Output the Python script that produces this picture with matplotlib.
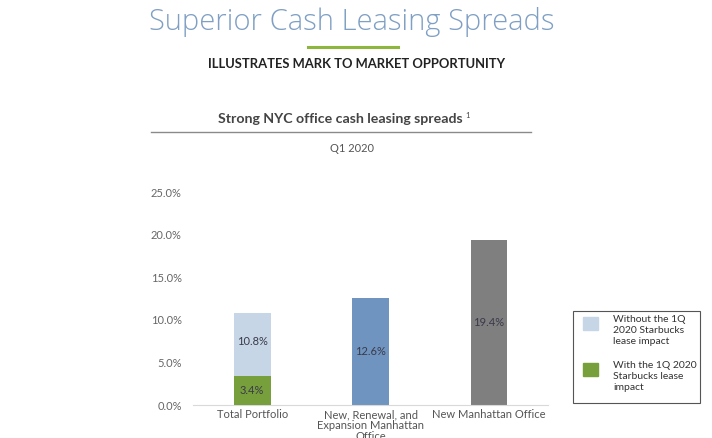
import matplotlib.pyplot as plt
from matplotlib.patches import Rectangle
from matplotlib.lines import Line2D

categories = ['Total Portfolio', 'New, Renewal, and\nExpansion Manhattan\nOffice', 'New Manhattan Office']
without_impact = [10.8, 12.6, 19.4]
with_impact = [3.4]
bar_colors = ['#c6d6e6', '#6f94bf', '#7f7f7f']
green = '#77a03c'
yticks = [0, 5, 10, 15, 20, 25]
legend_labels = ['Without the 1Q\n2020 Starbucks\nlease impact', 'With the 1Q 2020\nStarbucks lease\nimpact']

plt.rcParams['font.family'] = ['Lato', 'DejaVu Sans']

fig = plt.figure(figsize=(7.12, 4.38), dpi=100)
ax = fig.add_axes([0.271, 0.0753, 0.499, 0.486])

x = range(len(categories))
ax.bar(x, without_impact, width=0.31, color=bar_colors, zorder=2)
ax.bar([0], with_impact, width=0.31, color=green, zorder=3)

lab = dict(ha='center', va='center', fontsize=8, color='#3a3a4a')
ax.text(0, (with_impact[0] + without_impact[0]) / 2 + 0.35, f'{without_impact[0]:.1f}%', **lab)
for i in (1, 2):
    ax.text(i, without_impact[i] / 2, f'{without_impact[i]:.1f}%', **lab)
ax.text(0, with_impact[0] / 2, f'{with_impact[0]:.1f}%', **lab)

ax.set_xlim(-0.5, 2.5)
ax.set_ylim(0, 25)
ax.set_yticks(yticks)
ax.set_yticklabels([f'{v:.1f}%' for v in yticks])
ax.set_xticks(list(x))
ax.set_xticklabels(categories, fontsize=8, color='#555555', linespacing=1.0)
ax.tick_params(axis='y', length=0, labelsize=8, labelcolor='#666666', pad=8)
ax.tick_params(axis='x', length=0, pad=3)
for s in ['top', 'right', 'left']:
    ax.spines[s].set_visible(False)
ax.spines['bottom'].set_color('#d9d9d9')

# header
fig.text(0.494, 1 - 22 / 438, 'Superior Cash Leasing Spreads', ha='center', va='center',
         fontsize=21, color='#7f9fc4', fontweight='light', family=['Open Sans', 'Lato'])
fig.add_artist(Line2D([308 / 712, 398 / 712], [1 - 47 / 438] * 2, color='#8cb63c', lw=2.2))
fig.text(0.501, 1 - 64 / 438, 'ILLUSTRATES MARK TO MARKET OPPORTUNITY', ha='center', va='center',
         fontsize=9.4, fontweight='bold', color='#222222')
fig.text(0.478, 1 - 119 / 438, 'Strong NYC office cash leasing spreads', ha='center', va='center',
         fontsize=10.2, fontweight='bold', color='#444444')
fig.text(468 / 712, 1 - 116 / 438, '1', ha='center', va='center', fontsize=5.5, color='#444444')
fig.add_artist(Line2D([151 / 712, 531 / 712], [1 - 132 / 438] * 2, color='#8a8a8a', lw=1))
fig.text(0.494, 1 - 148 / 438, 'Q1 2020', ha='center', va='center', fontsize=8, color='#555555')

# legend box
W, H = 712, 438
fig.add_artist(Rectangle((573 / W, 1 - 403 / H), 127 / W, 92 / H, transform=fig.transFigure,
                         facecolor='white', edgecolor='#555555', lw=0.8))
for (ytop, c, t) in [(317, bar_colors[0], legend_labels[0]), (363, green, legend_labels[1])]:
    fig.add_artist(Rectangle((583 / W, 1 - (ytop + 13) / H), 15 / W, 13 / H,
                             transform=fig.transFigure, color=c))
    fig.text(613 / W, 1 - (ytop - 2) / H, t, ha='left', va='top', fontsize=7.5,
             color='#333333', linespacing=1.25)

fig.savefig('out.png', dpi=100)
